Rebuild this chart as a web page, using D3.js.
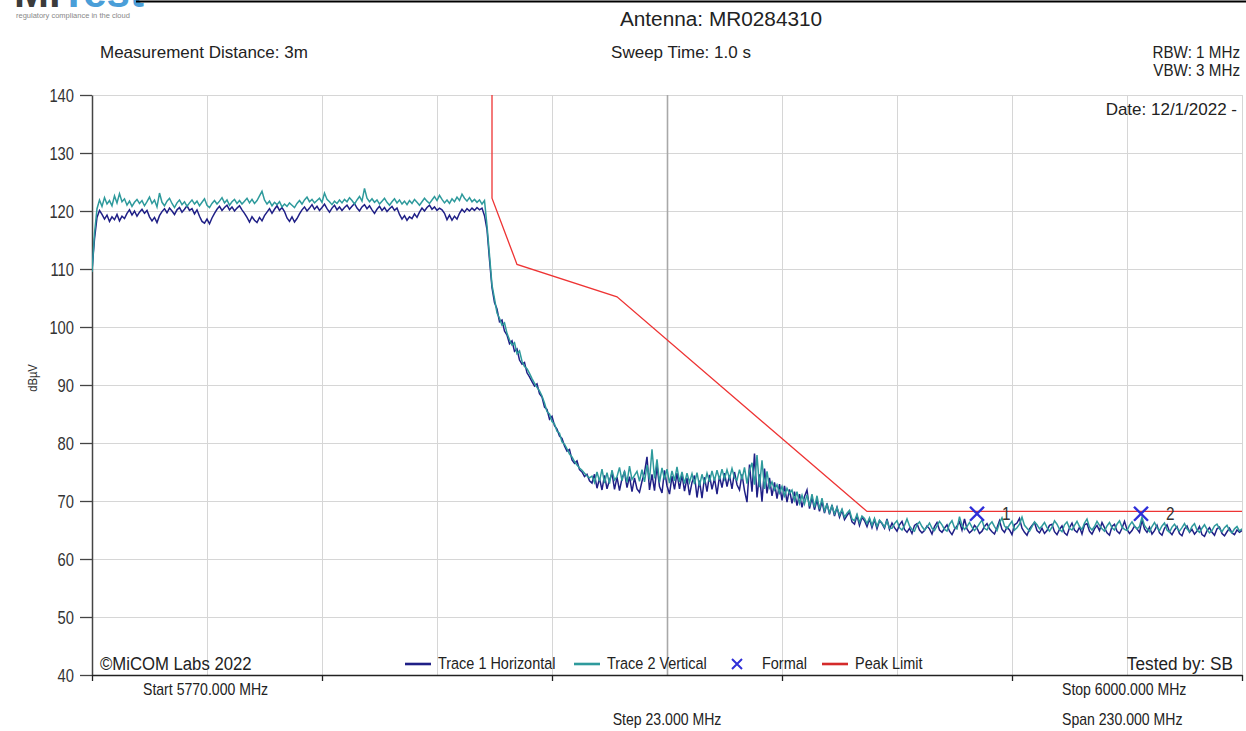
<!DOCTYPE html>
<html lang="en">
<head>
<meta charset="UTF-8">
<title>Antenna MR0284310 - Peak Limit Sweep</title>
<script src="https://d3js.org/d3.v7.min.js"></script>
<style>
  body { margin: 0; background: #fff; font-family: "Liberation Sans", Arial, sans-serif; }
  svg { display: block; }
</style>
</head>
<body>
<div id="chart"></div>
<script>
// sweep settings (MHz)
const freqStart = 5770, freqStop = 6000, freqStep = 0.5;
const gridStep = 23;
const yTicks = [40, 50, 60, 70, 80, 90, 100, 110, 120, 130, 140];
const xTickFreqs = [5770, 5816, 5862, 5908, 5954, 6000];

// Trace 1 Horizontal (dBuV), one value every 0.5 MHz from 5770 MHz
const trace1 = [
  109.8,115.2,118.9,120.1,119.4,118.6,119.3,118.2,119.0,118.5,119.4,118.3,119.1,118.7,119.6,120.2,119.3,120.0,119.1,119.8,
  120.3,119.6,120.1,119.0,118.3,118.9,118.0,119.2,119.9,120.4,119.7,120.5,120.0,119.4,120.2,120.6,119.8,120.3,120.9,120.1,
  120.4,119.5,120.2,119.1,118.2,117.9,118.6,117.8,118.8,119.6,120.3,120.8,120.1,120.6,121.0,120.2,120.7,120.0,120.5,120.9,
  120.2,119.6,118.9,118.1,119.0,118.4,118.0,118.9,118.3,119.2,119.8,120.4,119.6,120.3,120.9,120.1,120.6,119.9,118.8,118.2,
  119.0,118.1,118.7,119.5,120.2,120.7,120.0,120.5,121.1,120.3,120.8,120.1,120.6,121.2,120.4,119.8,120.5,121.0,120.2,120.7,
  120.1,120.6,121.0,120.3,120.8,121.3,120.5,120.0,120.7,121.1,120.4,120.9,120.2,119.6,120.3,120.8,120.1,120.6,119.9,120.4,
  120.8,120.1,120.5,119.4,118.6,119.2,118.4,119.0,118.7,119.5,118.9,119.8,120.5,120.0,120.6,121.0,120.3,120.7,120.1,120.5,
  120.2,119.6,118.5,119.3,118.4,119.1,118.6,119.6,120.3,119.8,120.4,120.0,120.5,120.1,120.6,120.2,120.5,119.2,116.8,111.6,
  106.8,104.2,103.1,100.9,101.2,99.3,98.6,97.1,97.6,95.8,96.2,94.3,93.6,93.9,92.1,91.4,90.6,89.8,90.2,88.5,
  87.9,86.2,85.8,84.1,84.6,83.0,82.4,81.2,80.8,79.5,78.6,78.9,77.1,76.5,76.9,75.4,75.0,74.2,74.6,73.5,
  73.1,74.6,72.2,73.9,71.9,74.4,72.1,73.6,74.8,72.0,74.1,71.8,73.9,75.0,72.3,74.2,71.6,74.0,72.1,71.5,
  73.4,74.9,77.6,71.9,74.6,71.8,76.1,72.5,71.4,75.3,72.6,71.2,74.3,72.0,74.8,72.1,74.5,71.7,74.0,71.0,
  73.2,74.4,70.6,73.5,70.5,74.1,71.6,74.5,72.0,73.9,71.2,74.3,72.3,74.8,72.5,74.4,72.1,75.0,72.8,71.9,
  74.6,71.8,69.8,76.3,71.6,78.2,70.6,74.6,69.9,75.6,71.3,74.0,70.9,73.2,70.4,72.9,70.1,72.6,69.8,72.0,
  69.6,71.6,69.2,71.2,68.9,70.8,71.9,68.7,70.6,68.5,70.2,68.2,69.9,67.9,69.6,67.7,69.3,67.4,68.9,67.2,
  68.4,66.8,67.5,68.1,66.4,66.0,67.5,65.8,67.2,66.6,65.6,66.9,65.4,66.8,65.2,66.6,66.1,65.3,66.9,65.1,
  66.2,65.4,64.8,65.9,66.5,65.1,64.6,65.3,64.4,65.8,66.1,65.0,64.5,64.9,65.7,65.2,64.3,65.6,66.3,65.0,
  64.6,65.3,65.9,64.8,64.2,65.1,65.7,66.4,65.0,66.9,65.2,64.5,64.9,65.8,65.3,64.4,64.8,65.6,66.1,65.2,
  64.7,64.3,65.4,66.6,65.1,64.6,65.5,65.0,64.2,65.9,66.2,67.0,65.3,64.6,64.1,65.2,65.8,66.3,64.9,64.5,
  65.3,64.4,64.9,65.8,66.0,64.7,64.2,65.1,65.7,64.5,64.1,65.4,66.2,65.0,64.6,65.5,64.3,65.9,66.1,64.8,
  64.3,65.2,65.8,64.9,66.3,65.4,64.5,64.1,65.6,66.0,64.8,64.4,65.3,66.5,65.1,64.4,64.9,65.7,65.2,64.6,
  66.7,65.2,64.6,65.5,64.3,64.9,65.8,64.5,64.1,65.3,65.9,64.7,64.2,65.0,65.6,64.4,64.0,65.2,65.7,64.6,
  65.1,64.3,64.8,65.6,64.2,63.9,64.9,65.4,64.6,64.1,65.2,65.5,64.4,64.0,64.7,65.3,64.5,64.2,65.0,64.6,
  64.9
];

// Trace 2 Vertical (dBuV), same sweep points
const trace2 = [
  109.5,116.1,120.4,121.9,120.8,122.3,121.2,121.8,120.9,122.6,121.4,123.0,121.6,122.1,121.0,121.7,120.8,121.5,122.0,121.3,
  121.8,120.9,121.6,122.4,121.3,121.9,120.7,123.1,121.5,120.9,121.7,122.2,121.3,120.6,121.4,121.9,121.1,121.6,120.8,121.4,
  121.9,121.2,121.7,120.9,121.5,122.1,121.0,120.6,121.3,121.8,121.2,121.7,122.3,121.4,121.9,121.0,121.6,122.0,121.3,121.8,
  121.2,121.7,122.2,121.4,122.0,121.3,121.8,122.6,123.4,121.9,121.2,121.7,120.9,121.5,121.1,121.6,120.7,121.2,120.8,121.4,
  121.0,120.6,121.3,121.8,121.2,121.9,122.4,121.6,122.0,121.4,121.8,122.2,121.5,123.1,122.0,121.6,121.1,121.7,121.3,121.9,
  121.4,122.0,121.6,122.3,121.8,121.2,121.9,122.5,121.7,123.9,122.2,121.6,122.1,121.5,121.9,121.2,121.7,122.2,121.5,121.0,
  121.6,122.1,121.4,121.9,121.2,121.7,121.1,121.8,121.3,122.0,121.5,121.0,121.6,122.2,121.7,121.3,121.9,122.5,121.8,122.7,
  122.0,121.4,121.9,121.3,122.1,121.6,122.4,121.8,122.9,122.2,121.7,122.3,121.6,122.0,121.5,121.9,121.2,121.8,117.5,112.4,
  107.2,104.9,102.4,101.5,100.3,100.7,98.9,97.8,96.9,97.3,95.4,95.9,94.1,93.2,92.8,92.0,91.1,90.3,89.6,89.0,
  88.1,86.9,85.4,85.0,83.7,83.3,82.0,81.7,80.2,79.8,79.0,78.1,77.6,76.8,76.2,75.7,75.3,74.8,74.3,74.0,
  74.3,73.2,75.0,73.4,75.5,73.1,74.9,73.0,75.3,73.6,74.2,75.8,73.5,75.2,73.2,76.0,73.7,74.4,75.1,73.4,
  75.4,73.3,76.2,73.7,78.9,73.9,77.2,73.2,75.7,73.7,75.5,73.1,75.2,73.5,75.9,73.3,75.0,73.0,74.8,73.2,
  74.7,72.9,74.9,72.6,74.6,73.0,74.8,73.3,75.2,73.5,75.3,73.7,75.5,73.8,75.4,73.9,75.6,74.0,73.6,75.4,
  73.7,75.8,73.0,75.3,76.6,72.8,77.9,72.4,77.0,72.1,75.1,72.3,73.3,71.9,72.8,71.4,72.5,70.9,72.2,71.3,
  71.9,70.1,71.6,69.6,71.0,69.5,71.1,69.1,71.2,68.9,70.9,68.6,70.5,68.3,69.4,68.0,69.2,67.8,68.9,67.6,
  68.6,67.2,67.9,68.4,66.9,66.6,67.7,66.3,67.4,67.0,66.1,67.1,65.8,67.0,65.6,66.7,66.2,65.5,66.6,65.3,
  65.3,66.1,66.6,65.4,65.0,65.8,66.9,65.7,65.1,64.8,65.9,66.4,65.6,65.0,65.5,66.2,65.3,64.9,65.7,66.5,
  65.9,65.1,64.8,66.0,66.6,65.4,65.2,67.3,65.8,65.1,65.6,66.3,65.5,64.9,65.4,66.1,66.7,65.3,65.0,65.9,
  66.4,65.6,64.9,66.2,67.1,65.7,65.2,65.9,66.5,65.0,65.4,66.0,67.2,65.8,65.3,64.8,65.6,66.4,65.9,65.2,
  65.7,66.3,65.4,64.8,65.5,66.6,66.0,65.1,64.7,65.9,66.4,65.3,65.0,65.8,66.5,65.6,65.1,66.2,66.9,65.5,
  65.0,65.6,66.5,65.8,65.2,64.8,65.7,66.3,65.4,65.0,66.0,66.6,65.5,65.1,64.9,65.8,66.4,65.7,65.2,65.6,
  67.2,65.8,65.2,64.7,65.6,66.3,65.4,64.9,65.7,66.2,65.0,64.6,65.5,66.0,65.3,64.8,65.4,66.1,65.2,64.7,
  65.6,66.1,65.0,64.6,65.3,65.9,65.1,64.5,64.9,65.7,66.0,65.2,64.7,65.4,65.8,64.9,64.5,65.2,65.6,64.8,
  65.2
];

// peak limit mask
const limitFreq  = [5850, 5850, 5855, 5875, 5925, 6000];
const limitLevel = [140, 122.2, 110.8, 105.2, 68.2, 68.2];

// "Formal" markers
const markerFreq  = [5947.0, 5979.8];
const markerLevel = [67.8, 67.8];
const markerName  = ["1", "2"];

const W = 1246, H = 731;
const plot = {left: 92, right: 1242, top: 95, bottom: 675};

const svg = d3.select("#chart").append("svg")
  .attr("width", W).attr("height", H);

const x = d3.scaleLinear().domain([freqStart, freqStop]).range([plot.left, plot.right]);
const y = d3.scaleLinear().domain([40, 140]).range([plot.bottom, plot.top]);

// text helper; sx < 1 squeezes the glyphs like the narrow report font
function label(px, py, str, o) {
  o = Object.assign({size: 16, anchor: "start", sx: 1, fill: "#222"}, o);
  return svg.append("text")
    .attr("transform", `translate(${px},${py}) scale(${o.sx},1)`)
    .attr("text-anchor", o.anchor)
    .attr("font-size", o.size)
    .attr("fill", o.fill)
    .text(str);
}

// logo, cut off at the top like the report header
const logo = svg.append("text").attr("x", 14).attr("y", 7)
  .attr("font-size", 42).attr("font-weight", "bold");
logo.append("tspan").attr("fill", "#3b3b3b").text("Mi");
logo.append("tspan").attr("fill", "#4a9ed8").text("Test");
label(16, 18, "regulatory compliance in the cloud", {size: 7.5, fill: "#888"});
svg.append("line").attr("x1", 136).attr("x2", W).attr("y1", 1.5).attr("y2", 1.5)
  .attr("stroke", "#000").attr("stroke-width", 2);

// header
label(721, 26, "Antenna: MR0284310", {size: 20, anchor: "middle", sx: 1.04});
label(100, 58, "Measurement Distance: 3m", {size: 17, sx: 1.0});
label(681, 58, "Sweep Time: 1.0 s", {size: 17, anchor: "middle"});
label(1240, 58, "RBW: 1 MHz", {size: 16, anchor: "end", sx: 0.95});
label(1240, 76, "VBW: 3 MHz", {size: 16, anchor: "end", sx: 0.95});

// grid
const gridFreqs = d3.range(freqStart, freqStop + 1, gridStep);
svg.append("g").selectAll("line").data(yTicks.slice(1)).join("line")
  .attr("x1", plot.left).attr("x2", plot.right)
  .attr("y1", d => y(d) + 0.5).attr("y2", d => y(d) + 0.5)
  .attr("stroke", "#d6d6d6");
svg.append("g").selectAll("line").data(gridFreqs.slice(1)).join("line")
  .attr("x1", d => x(d) + 0.5).attr("x2", d => x(d) + 0.5)
  .attr("y1", plot.top).attr("y2", plot.bottom)
  .attr("stroke", (d, i) => i === 4 ? "#a8a8a8" : "#d6d6d6")
  .attr("stroke-width", (d, i) => i === 4 ? 1.6 : 1);

label(1237, 115, "Date: 12/1/2022 -", {size: 17, anchor: "end", sx: 1.0});

// axes
const yAxis = svg.append("g").attr("transform", `translate(${plot.left},0)`)
  .call(d3.axisLeft(y).tickValues(yTicks).tickSize(12).tickSizeOuter(0).tickPadding(5));
yAxis.select(".domain").attr("stroke", "#444").attr("stroke-width", 1.5);
yAxis.selectAll(".tick line").attr("stroke", "#444").attr("stroke-width", 1.3);
yAxis.selectAll(".tick text")
  .attr("x", null).attr("dy", null)
  .attr("transform", "translate(-18,6) scale(0.82,1)")
  .attr("font-size", 18).attr("fill", "#333")
  .attr("font-family", "Liberation Sans, Arial, sans-serif");

const xAxis = svg.append("g").attr("transform", `translate(0,${plot.bottom})`)
  .call(d3.axisBottom(x).tickValues(xTickFreqs).tickSize(6).tickSizeOuter(0).tickFormat(""));
xAxis.select(".domain").attr("stroke", "#222").attr("stroke-width", 1.5);
xAxis.selectAll(".tick line").attr("stroke", "#222").attr("stroke-width", 1.3);

// traces
svg.append("clipPath").attr("id", "clip").append("rect")
  .attr("x", plot.left).attr("y", plot.top)
  .attr("width", plot.right - plot.left).attr("height", plot.bottom - plot.top);

const line = d3.line().x(d => x(d[0])).y(d => y(d[1]));
const pts = arr => arr.map((v, i) => [freqStart + i * freqStep, v]);
const traceG = svg.append("g").attr("clip-path", "url(#clip)");

traceG.append("path").datum(pts(trace1))
  .attr("d", line).attr("fill", "none").attr("stroke", "#1f1f86").attr("stroke-width", 1.5);
traceG.append("path").datum(pts(trace2))
  .attr("d", line).attr("fill", "none").attr("stroke", "#2e9a9c").attr("stroke-width", 1.5);
traceG.append("path").datum(limitFreq.map((f, i) => [f, limitLevel[i]]))
  .attr("d", line).attr("fill", "none").attr("stroke", "#ee3434").attr("stroke-width", 1.3);

// markers
const cross = "M-7,-7L7,7M-7,7L7,-7";
markerFreq.forEach((f, i) => {
  svg.append("path").attr("d", cross)
    .attr("transform", `translate(${x(f)},${y(markerLevel[i])})`)
    .attr("stroke", "#2f2fd8").attr("stroke-width", 2.4).attr("fill", "none");
  label(x(f) + 25, y(markerLevel[i]) + 6, markerName[i], {size: 18, sx: 0.85, fill: "#333"});
});

// legend row
const legY = 664;
label(100, legY + 6, "\u00a9MiCOM Labs 2022", {size: 19, sx: 0.88});
[
  {x: 405, kind: "line", color: "#1f1f86", text: "Trace 1 Horizontal"},
  {x: 574, kind: "line", color: "#2e9a9c", text: "Trace 2 Vertical"},
  {x: 731, kind: "cross", color: "#2f2fd8", text: "Formal"},
  {x: 822, kind: "line", color: "#d42a2a", text: "Peak Limit"}
].forEach(d => {
  if (d.kind === "line") {
    svg.append("line").attr("x1", d.x).attr("x2", d.x + 26)
      .attr("y1", legY).attr("y2", legY)
      .attr("stroke", d.color).attr("stroke-width", 2.6);
    label(d.x + 33, legY + 5, d.text, {size: 17, sx: 0.85});
  } else {
    svg.append("path").attr("d", "M-5,-5L5,5M-5,5L5,-5")
      .attr("transform", `translate(${d.x + 6},${legY})`)
      .attr("stroke", d.color).attr("stroke-width", 2);
    label(d.x + 31, legY + 5, d.text, {size: 17, sx: 0.85});
  }
});
label(1233, legY + 6, "Tested by: SB", {size: 18.5, anchor: "end", sx: 0.93});

// y axis title
svg.append("text")
  .attr("transform", "translate(37,378) rotate(-90) scale(0.9,1)")
  .attr("text-anchor", "middle").attr("font-size", 12.5).attr("fill", "#333")
  .text("dB\u00b5V");

// footer
label(143, 695, "Start 5770.000 MHz", {size: 16, sx: 0.88});
label(1062, 695, "Stop 6000.000 MHz", {size: 16, sx: 0.88});
label(667, 725, "Step 23.000 MHz", {size: 16, anchor: "middle", sx: 0.88});
label(1062, 725, "Span 230.000 MHz", {size: 16, sx: 0.88});
</script>
</body>
</html>
